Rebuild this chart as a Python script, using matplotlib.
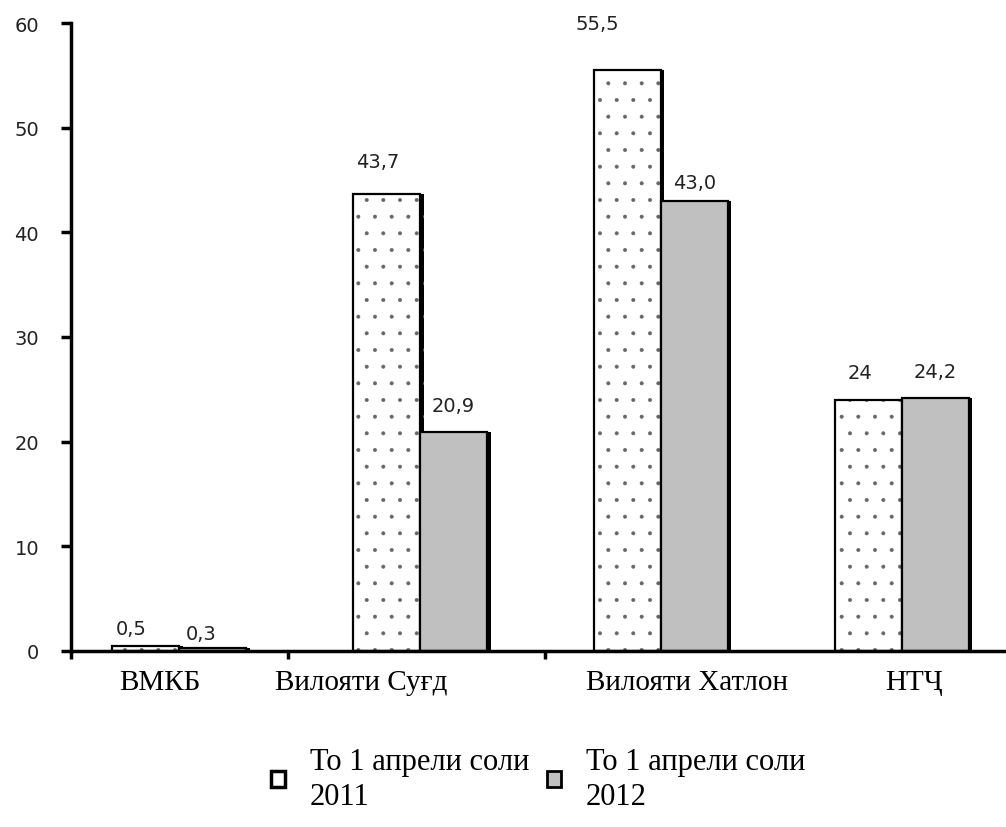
import matplotlib
matplotlib.use('Agg')
import matplotlib.pyplot as plt
import matplotlib.patheffects as pe
from matplotlib.patches import Patch
import numpy as np

categories = ['ВМКБ', 'Вилояти Суғд', 'Вилояти Хатлон', 'НТҶ']
vals_2011 = [0.5, 43.7, 55.5, 24.0]
vals_2012 = [0.3, 20.9, 43.0, 24.2]
labels_2011 = ['0,5', '43,7', '55,5', '24']
labels_2012 = ['0,3', '20,9', '43,0', '24,2']
series_names = ['То 1 апрели соли\n2011', 'То 1 апрели соли\n2012']

serif = ['Liberation Serif', 'DejaVu Serif']
plt.rcParams['hatch.linewidth'] = 0.4

fig = plt.figure(figsize=(10.06, 8.28), dpi=100)
ax = fig.add_axes([0.0706, 0.2126, 0.9294, 0.7584])

x = np.arange(len(categories))
w = 0.278
shadow = [pe.SimplePatchShadow(offset=(2.5, 0), shadow_rgbFace='black', alpha=1.0), pe.Normal()]

# dotted fill first (grey dots, with the shadow), then the black outline on top
ax.bar(x - w / 2, vals_2011, w, color='white', edgecolor='#666666', linewidth=0,
       hatch='.', path_effects=shadow)
b1 = ax.bar(x - w / 2, vals_2011, w, fill=False, edgecolor='black', linewidth=1.6)
b2 = ax.bar(x + w / 2, vals_2012, w, color='#c0c0c0', edgecolor='black', linewidth=1.6,
            path_effects=shadow)

# label nudges in pixels (dx, dy) to follow the original layout
nudge_2011 = [(-15, 17), (-9, 32), (-30, 47), (-8, 27)]
nudge_2012 = [(-12, 14), (0, 27), (0, 18), (0, 26)]
for bars, labs, nud in [(b1, labels_2011, nudge_2011), (b2, labels_2012, nudge_2012)]:
    for bar, lab, (dx, dy) in zip(bars, labs, nud):
        ax.annotate(lab, (bar.get_x() + bar.get_width() / 2, bar.get_height()),
                    xytext=(dx * 0.72, dy * 0.72), textcoords='offset points',
                    ha='center', va='center', fontsize=14, color='#222222',
                    family='DejaVu Sans')

cat_nudge = [-20, -59, 26, 12]
for xi, name, dx in zip(x, categories, cat_nudge):
    ax.annotate(name, (xi, 0), xycoords=('data', 'axes fraction'),
                xytext=(dx * 0.72, -31 * 0.72), textcoords='offset points',
                ha='center', va='center', fontsize=21, family=serif)

ax.set_xlim(-0.45, 3.433)
ax.set_ylim(0, 60)
ax.set_yticks(range(0, 61, 10))
ax.set_xticks([-0.45, 0.45, 1.52])
ax.set_xticklabels([])
for s in ['top', 'right']:
    ax.spines[s].set_visible(False)
for s in ['left', 'bottom']:
    ax.spines[s].set_linewidth(2.5)
ax.tick_params(axis='y', length=7, width=2.5, direction='out', pad=16,
               labelsize=14, labelcolor='#222222')
ax.tick_params(axis='x', length=6, width=2.5, direction='out')
for t in ax.get_yticklabels():
    t.set_family('DejaVu Sans')

handles = [Patch(facecolor='white', edgecolor='black', linewidth=2.5),
           Patch(facecolor='#c0c0c0', edgecolor='black', linewidth=2.0)]
leg = fig.legend(handles, series_names, loc='center', bbox_to_anchor=(0.535, 0.058),
                 ncol=2, frameon=False, handlelength=0.45, handleheight=0.45,
                 handletextpad=0.8, columnspacing=0.6,
                 prop={'family': serif, 'size': 22})
for t in leg.get_texts():
    t.set_linespacing(1.3)

fig.savefig('out.png', dpi=100)
